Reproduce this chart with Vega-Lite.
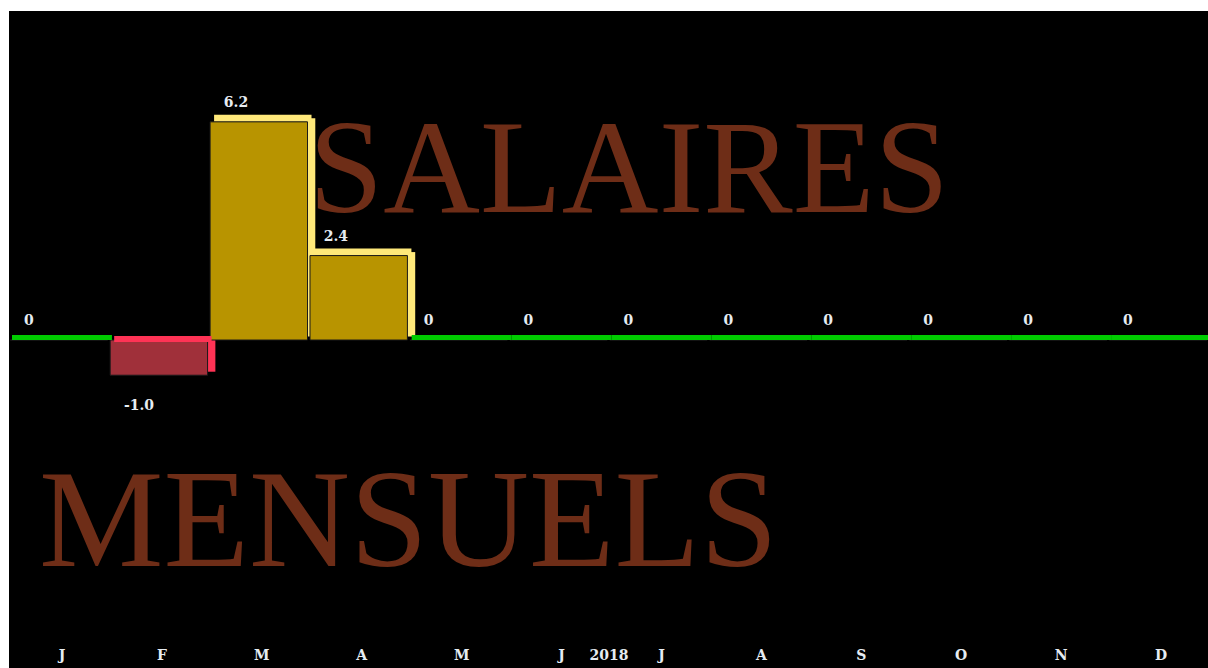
{
  "$schema": "https://vega.github.io/schema/vega-lite/v6.json",
  "width": 1199,
  "height": 657,
  "autosize": {"type": "none"},
  "padding": {"left": 9, "top": 11, "right": 0, "bottom": 0},
  "background": "white",
  "config": {
    "view": {"fill": "black", "stroke": null},
    "locale": {"number": {"decimal": ".", "thousands": ",", "grouping": [3], "currency": ["", ""], "minus": "-"}}
  },
  "data": {"values": [
    {"mois": "Janvier", "value": 0},
    {"mois": "Février", "value": -1.0},
    {"mois": "Mars", "value": 6.2},
    {"mois": "Avril", "value": 2.4},
    {"mois": "Mai", "value": 0},
    {"mois": "Juin", "value": 0},
    {"mois": "Juillet", "value": 0},
    {"mois": "Août", "value": 0},
    {"mois": "Septembre", "value": 0},
    {"mois": "Octobre", "value": 0},
    {"mois": "Novembre", "value": 0},
    {"mois": "Décembre", "value": 0}
  ]},
  "encoding": {
    "x": {
      "field": "mois", "type": "nominal", "sort": null,
      "scale": {"domain": ["Janvier","Février","Mars","Avril","Mai","Juin","Juillet","Août","Septembre","Octobre","Novembre","Décembre"], "paddingInner": 0, "paddingOuter": 0},
      "axis": {
        "orient": "bottom", "offset": -9, "domain": false, "ticks": false, "tickSize": 0,
        "labelPadding": 0, "labelBaseline": "alphabetic", "labelAngle": 0, "labelOffset": 3,
        "labelExpr": "substring(datum.label, 0, 1)",
        "labelFont": "DejaVu Serif", "labelFontWeight": "bold", "labelFontSize": 14, "labelColor": "#e6ecf2",
        "title": "2018", "titleY": 0, "titleBaseline": "alphabetic",
        "titleFont": "DejaVu Serif", "titleFontWeight": "bold", "titleFontSize": 14, "titleColor": "#e6ecf2"
      }
    },
    "y": {"field": "value", "type": "quantitative", "scale": {"domain": [-9.32, 9.35]}, "axis": null}
  },
  "layer": [
    {
      "transform": [{"filter": "datum.mois == 'Avril'"}],
      "mark": {"type": "text", "text": "SALAIRES", "font": "Liberation Serif", "fontSize": 134, "color": "#6E2D17", "align": "left", "baseline": "alphabetic", "dx": -50},
      "encoding": {"y": {"datum": 3.64}}
    },
    {
      "transform": [{"filter": "datum.mois == 'Janvier'"}],
      "mark": {"type": "text", "text": "MENSUELS", "font": "Liberation Serif", "fontSize": 140, "color": "#6E2D17", "align": "left", "baseline": "alphabetic", "dx": -20},
      "encoding": {"y": {"datum": -6.42}}
    },
    {
      "transform": [{"filter": "datum.value != 0"}],
      "mark": {"type": "bar", "width": 8, "xOffset": 52.5, "yOffset": -3.5, "y2Offset": -3.5},
      "encoding": {
        "y2": {"datum": 0},
        "color": {"condition": {"test": "datum.value < 0", "value": "#FF3355"}, "value": "#FFE97A"}
      }
    },
    {
      "transform": [{"filter": "datum.value > 0"}],
      "mark": {"type": "bar", "width": {"band": 0.975}, "xOffset": 4, "yOffset": -7, "y2Offset": 0, "color": "#FFE97A"},
      "encoding": {
        "y2": {"field": "value"}
      }
    },
    {
      "mark": {"type": "bar", "width": {"band": 0.975}, "stroke": "#1a1a1a", "strokeWidth": 1},
      "encoding": {
        "y2": {"datum": 0},
        "color": {"condition": {"test": "datum.value < 0", "value": "#A0303A"}, "value": "#B89400"}
      }
    },
    {
      "transform": [{"filter": "datum.value < 0"}],
      "mark": {"type": "bar", "width": {"band": 0.975}, "xOffset": 4, "yOffset": -4, "y2Offset": 2, "color": "#FF3355"},
      "encoding": {
        "y": {"datum": 0},
        "y2": {"datum": 0}
      }
    },
    {
      "transform": [{"filter": "datum.value == 0"}],
      "mark": {"type": "bar", "width": {"band": 1}, "xOffset": 3, "yOffset": -5, "color": "#00CC00"},
      "encoding": {
        "y2": {"datum": 0}
      }
    },
    {
      "transform": [{"filter": "datum.value >= 0"}],
      "mark": {"type": "text", "font": "DejaVu Serif", "fontWeight": "bold", "fontSize": 14, "color": "#e6ecf2", "align": "left", "baseline": "alphabetic", "dx": -35, "dy": -15},
      "encoding": {
        "text": {"condition": {"test": "datum.value == 0", "value": "0"}, "field": "value", "type": "quantitative", "format": ".1f"}
      }
    },
    {
      "transform": [{"filter": "datum.value < 0"}],
      "mark": {"type": "text", "font": "DejaVu Serif", "fontWeight": "bold", "fontSize": 14, "color": "#e6ecf2", "align": "left", "baseline": "alphabetic", "dx": -35, "dy": 35},
      "encoding": {
        "text": {"field": "value", "type": "quantitative", "format": ".1f"}
      }
    }
  ]
}
